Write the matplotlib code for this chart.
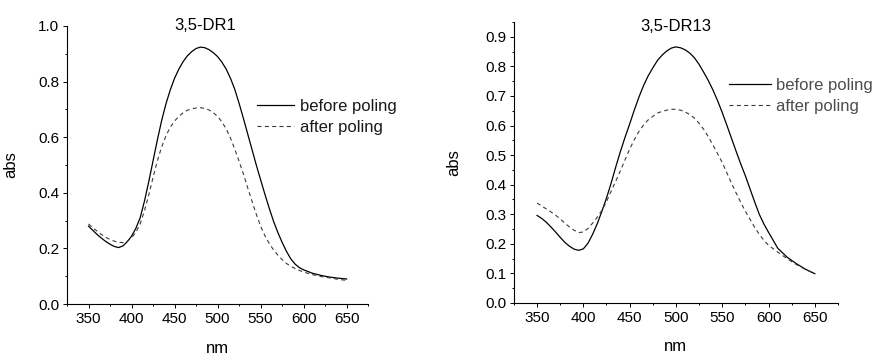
import matplotlib
matplotlib.use("Agg")
import matplotlib.pyplot as plt
from matplotlib.ticker import MultipleLocator

plt.rcParams["font.family"] = ["Liberation Sans", "DejaVu Sans"]

# ---- data (absorbance vs wavelength, nm) ----
wl_5nm = [350, 355, 360, 365, 370, 375, 380, 385, 390, 395, 400, 405, 410, 415, 420,
          425, 430, 435, 440, 445, 450, 455, 460, 465, 470, 475, 480, 485, 490, 495,
          500, 505, 510, 515, 520, 525, 530, 535, 540, 545, 550, 555, 560, 565, 570,
          575, 580, 585, 590, 595, 600, 610, 620, 630, 640, 650]

dr1_before = [0.280, 0.265, 0.250, 0.237, 0.225, 0.215, 0.207, 0.203, 0.209, 0.224,
              0.244, 0.272, 0.310, 0.370, 0.440, 0.515, 0.590, 0.660, 0.720, 0.770,
              0.812, 0.845, 0.872, 0.893, 0.908, 0.919, 0.924, 0.922, 0.915, 0.904,
              0.890, 0.870, 0.845, 0.812, 0.772, 0.722, 0.668, 0.612, 0.556, 0.500,
              0.447, 0.395, 0.345, 0.298, 0.258, 0.222, 0.190, 0.163, 0.144, 0.131,
              0.123, 0.111, 0.103, 0.097, 0.093, 0.090]

dr1_after = [0.288, 0.274, 0.262, 0.250, 0.240, 0.232, 0.226, 0.222, 0.221, 0.226,
             0.238, 0.258, 0.288, 0.335, 0.392, 0.455, 0.515, 0.565, 0.605, 0.636,
             0.658, 0.675, 0.688, 0.697, 0.702, 0.705, 0.706, 0.704, 0.698, 0.688,
             0.675, 0.655, 0.630, 0.597, 0.557, 0.514, 0.468, 0.418, 0.370, 0.323,
             0.280, 0.246, 0.218, 0.195, 0.176, 0.160, 0.146, 0.136, 0.128, 0.121,
             0.115, 0.106, 0.099, 0.094, 0.089, 0.085]

dr13_before = [0.296, 0.286, 0.273, 0.257, 0.240, 0.222, 0.205, 0.192, 0.182, 0.178,
               0.183, 0.202, 0.232, 0.268, 0.310, 0.355, 0.405, 0.460, 0.512, 0.560,
               0.605, 0.652, 0.696, 0.735, 0.768, 0.795, 0.820, 0.838, 0.852, 0.862,
               0.866, 0.863, 0.856, 0.845, 0.829, 0.807, 0.780, 0.752, 0.720, 0.684,
               0.644, 0.601, 0.557, 0.513, 0.470, 0.430, 0.386, 0.342, 0.300, 0.267,
               0.239, 0.185, 0.155, 0.133, 0.114, 0.099]

dr13_after = [0.338, 0.328, 0.318, 0.308, 0.297, 0.284, 0.270, 0.257, 0.246, 0.238,
              0.240, 0.252, 0.270, 0.290, 0.313, 0.343, 0.378, 0.412, 0.447, 0.484,
              0.520, 0.552, 0.580, 0.602, 0.619, 0.631, 0.642, 0.648, 0.652, 0.655,
              0.655, 0.652, 0.646, 0.637, 0.625, 0.608, 0.587, 0.562, 0.534, 0.505,
              0.475, 0.440, 0.405, 0.372, 0.340, 0.310, 0.283, 0.256, 0.232, 0.212,
              0.195, 0.172, 0.150, 0.130, 0.113, 0.099]

titles = ["3,5-DR1", "3,5-DR13"]
labels = ["before poling", "after poling"]


def style_axis(ax, ymax, ymajor):
    ax.set_xlim(325, 675)
    ax.set_ylim(0, ymax)
    ax.xaxis.set_major_locator(MultipleLocator(50))
    ax.xaxis.set_minor_locator(MultipleLocator(25))
    ax.yaxis.set_major_locator(MultipleLocator(ymajor))
    ax.yaxis.set_minor_locator(MultipleLocator(ymajor / 2))
    ax.xaxis.set_major_formatter(plt.FormatStrFormatter("%d"))
    ax.yaxis.set_major_formatter(plt.FormatStrFormatter("%.1f"))
    for side in ("top", "right"):
        ax.spines[side].set_visible(False)
    for side in ("left", "bottom"):
        ax.spines[side].set_linewidth(0.8)
    ax.tick_params(which="major", direction="out", length=3, width=0.7,
                   labelsize=11, pad=2.5)
    ax.tick_params(which="minor", direction="out", length=1.6, width=0.7)
    ax.set_xlabel("nm", fontsize=12)
    ax.set_ylabel("abs", fontsize=12)


fig = plt.figure(figsize=(8.83, 3.56), dpi=100)
ax1 = fig.add_axes([0.0759, 0.146, 0.341, 0.781])
ax2 = fig.add_axes([0.582, 0.149, 0.367, 0.789])

panels = [
    (ax1, dr1_before, dr1_after, 1.0, 0.2),
    (ax2, dr13_before, dr13_after, 0.95, 0.1),
]
for ax, yb, ya, ymax, ymajor in panels:
    ax.plot(wl_5nm, yb, color="black", lw=0.9, label=labels[0])
    ax.plot(wl_5nm, ya, color="#3a3a3a", lw=0.8, dashes=(3.6, 3.0), label=labels[1])
    style_axis(ax, ymax, ymajor)

ax1.text(0.458, 1.0, titles[0], transform=ax1.transAxes, ha="center", va="center",
         fontsize=12)
ax2.text(0.5, 0.985, titles[1], transform=ax2.transAxes, ha="center", va="center",
         fontsize=12)

ax1.yaxis.set_label_coords(-0.163, 0.5)
ax2.yaxis.set_label_coords(-0.164, 0.5)
ax1.xaxis.set_label_coords(0.5, -0.132)
ax2.xaxis.set_label_coords(0.5, -0.130)

leg1 = ax1.legend(loc="upper left", bbox_to_anchor=(0.631, 0.737), frameon=False,
                  fontsize=12, handlelength=2.2, handletextpad=0.35, labelspacing=0.35,
                  borderpad=0, borderaxespad=0)
leg2 = ax2.legend(loc="upper left", bbox_to_anchor=(0.664, 0.80), frameon=False,
                  fontsize=12, handlelength=2.5, handletextpad=0.3, labelspacing=0.35,
                  borderpad=0, borderaxespad=0)
for t in leg1.get_texts():
    t.set_color("#1a1a1a")
for t in leg2.get_texts():
    t.set_color("#4d4d4d")

fig.savefig("out.png", dpi=100)
